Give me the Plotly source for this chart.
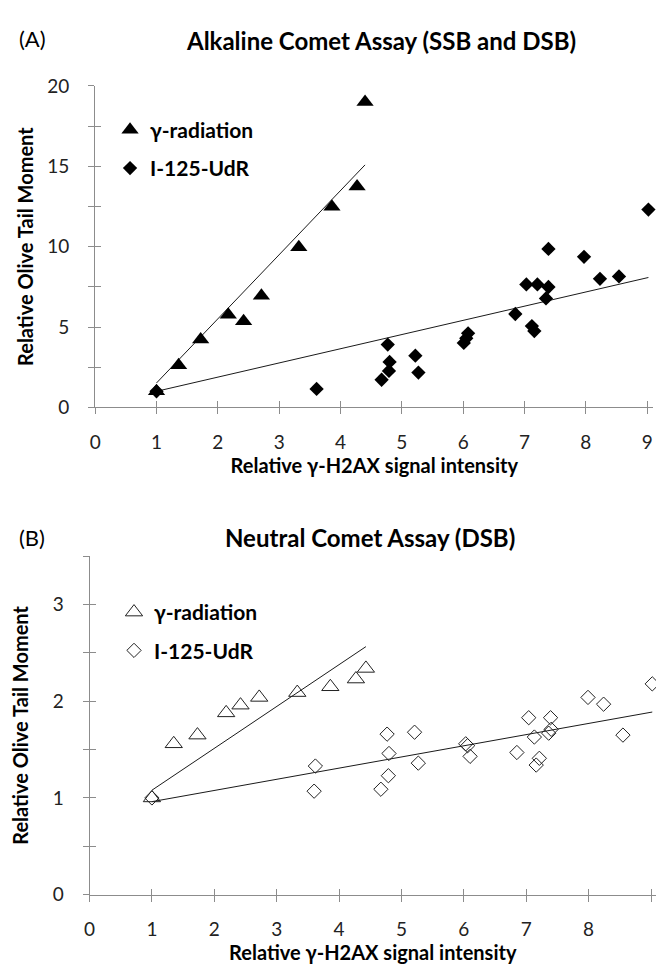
import plotly.graph_objects as go

# ---------------- data ----------------
x_ticks = [0, 1, 2, 3, 4, 5, 6, 7, 8, 9]

# Panel A: Alkaline comet assay
gamma_x_A = [1.00, 1.36, 1.72, 2.17, 2.42, 2.71, 3.32, 3.86, 4.27, 4.40]
gamma_y_A = [1.00, 2.63, 4.23, 5.77, 5.36, 6.94, 9.96, 12.49, 13.74, 19.0]
iodine_x_A = [1.00, 3.61, 4.67, 4.79, 4.80, 4.77, 5.22, 5.27, 6.01, 6.05, 6.08, 6.85,
              7.03, 7.21, 7.39, 7.35, 7.12, 7.16, 7.39, 7.97, 8.23, 8.54, 9.02]
iodine_y_A = [1.00, 1.15, 1.72, 2.27, 2.83, 3.91, 3.22, 2.17, 4.01, 4.30, 4.61, 5.81,
              7.65, 7.65, 7.49, 6.78, 5.06, 4.75, 9.86, 9.37, 8.00, 8.15, 12.31]
fit_gamma_A = (3.99, -2.47)    # slope, intercept
fit_iodine_A = (0.883, 0.117)
y_ticks_A = [0, 2.5, 5, 7.5, 10, 12.5, 15, 17.5, 20]
y_labels_A = ["0", "", "5", "", "10", "", "15", "", "20"]

# Panel B: Neutral comet assay
gamma_x_B = [1.00, 1.35, 1.73, 2.19, 2.42, 2.72, 3.33, 3.86, 4.27, 4.43]
gamma_y_B = [1.00, 1.56, 1.65, 1.88, 1.96, 2.04, 2.09, 2.15, 2.23, 2.34]
iodine_x_B = [1.00, 3.60, 3.62, 4.67, 4.79, 4.80, 4.77, 5.21, 5.27, 6.03, 6.06, 6.10,
              6.85, 7.04, 7.13, 7.21, 7.16, 7.39, 7.36, 7.40, 7.99, 8.24, 8.55, 9.02]
iodine_y_B = [1.00, 1.07, 1.33, 1.09, 1.23, 1.46, 1.66, 1.68, 1.36, 1.56, 1.54, 1.43,
              1.47, 1.83, 1.63, 1.41, 1.34, 1.83, 1.67, 1.71, 2.04, 1.97, 1.65, 2.18]
fit_gamma_B = (0.433, 0.647)
fit_iodine_B = (0.1156, 0.846)
y_ticks_B = [0, 0.5, 1, 1.5, 2, 2.5, 3, 3.5]
y_labels_B = ["0", "", "1", "", "2", "", "3", ""]

# ---------------- styling ----------------
FONT = "Lato"
AX = "#8c8c8c"
W, H = 656, 971

def px2x(p):
    return p / W

def px2y(p):
    return 1 - p / H

x_range_A = [0, 9.1]
x_range_B = [0, 9.08]
domA_x = [px2x(90), px2x(653.3)]
domA_y = [px2y(405), px2y(75.7)]
domB_x = [px2x(84.3), px2x(656)]
domB_y = [px2y(904), px2y(557.5)]

fig = go.Figure()

def fit_line(xs, coef):
    lo, hi = min(xs), max(xs)
    return [lo, hi], [coef[0] * lo + coef[1], coef[0] * hi + coef[1]]

LINE = dict(color="#1a1a1a", width=1)

# Panel A traces
for xs, coef in ((gamma_x_A, fit_gamma_A), (iodine_x_A, fit_iodine_A)):
    lx, ly = fit_line(xs, coef)
    fig.add_trace(go.Scatter(x=lx, y=ly, mode="lines", line=LINE, showlegend=False,
                             xaxis="x", yaxis="y", hoverinfo="skip"))
fig.add_trace(go.Scatter(x=gamma_x_A, y=gamma_y_A, mode="markers", name="γ-radiation",
                         marker=dict(symbol="triangle-up", size=15, color="black"),
                         legend="legend", legendgroup="a1", xaxis="x", yaxis="y",
                         cliponaxis=False))
fig.add_trace(go.Scatter(x=iodine_x_A, y=iodine_y_A, mode="markers", name="I-125-UdR",
                         marker=dict(symbol="diamond", size=11, color="black"),
                         legend="legend", legendgroup="a2", xaxis="x", yaxis="y",
                         cliponaxis=False))

# Panel B traces
for xs, coef in ((gamma_x_B, fit_gamma_B), (iodine_x_B, fit_iodine_B)):
    lx, ly = fit_line(xs, coef)
    fig.add_trace(go.Scatter(x=lx, y=ly, mode="lines", line=LINE, showlegend=False,
                             xaxis="x2", yaxis="y2", hoverinfo="skip"))
fig.add_trace(go.Scatter(x=gamma_x_B, y=gamma_y_B, mode="markers", name="γ-radiation",
                         marker=dict(symbol="triangle-up-open", size=15, color="#222",
                                     line=dict(width=1)),
                         legend="legend2", legendgroup="b1", xaxis="x2", yaxis="y2",
                         cliponaxis=False))
fig.add_trace(go.Scatter(x=iodine_x_B, y=iodine_y_B, mode="markers", name="I-125-UdR",
                         marker=dict(symbol="diamond-open", size=11, color="#222",
                                     line=dict(width=1)),
                         legend="legend2", legendgroup="b2", xaxis="x2", yaxis="y2",
                         cliponaxis=False))

# invisible traces to activate overlay axes (inner half of crossing ticks)
fig.add_trace(go.Scatter(x=[], y=[], xaxis="x3", yaxis="y3", showlegend=False))
fig.add_trace(go.Scatter(x=[], y=[], xaxis="x4", yaxis="y4", showlegend=False))

tickfont = dict(family=FONT, size=19, color="#222")
titlefont = dict(family=FONT, size=20, color="black", weight="bold")

def xaxis_common(dom, anchor, rng):
    return dict(domain=dom, anchor=anchor, range=rng, tickmode="array",
                tickvals=x_ticks, ticktext=[str(v) for v in x_ticks],
                ticks="outside", ticklen=6, tickcolor=AX, tickwidth=1,
                showline=True, linecolor=AX, linewidth=1, showgrid=False,
                zeroline=False, tickfont=tickfont, ticklabelstandoff=12,
                title=dict(text="Relative γ-H2AX signal intensity", font=titlefont,
                           standoff=6))

def yaxis_common(dom, anchor, rng, tv, tt, standoff):
    return dict(domain=dom, anchor=anchor, range=rng, tickmode="array",
                tickvals=tv, ticktext=tt, ticks="outside", ticklen=6, tickcolor=AX,
                tickwidth=1, showline=True, linecolor=AX, linewidth=1, showgrid=False,
                zeroline=False, tickfont=tickfont, ticklabelstandoff=15,
                title=dict(text="Relative Olive Tail Moment", font=titlefont,
                           standoff=standoff))

def overlay_x(over, anchor, rng):
    return dict(overlaying=over, anchor=anchor, range=rng, tickmode="array",
                tickvals=x_ticks, ticks="inside", ticklen=6, tickcolor=AX, tickwidth=1,
                showticklabels=False, showline=False, showgrid=False, zeroline=False)

def overlay_y(over, anchor, rng, tv):
    return dict(overlaying=over, anchor=anchor, range=rng, tickmode="array",
                tickvals=tv, ticks="inside", ticklen=6, tickcolor=AX, tickwidth=1,
                showticklabels=False, showline=False, showgrid=False, zeroline=False)

legend_font = dict(family=FONT, size=21, color="black", weight="bold")

fig.update_layout(
    width=W, height=H,
    margin=dict(l=0, r=0, t=0, b=0),
    paper_bgcolor="white", plot_bgcolor="white",
    xaxis=xaxis_common(domA_x, "y", x_range_A),
    yaxis=yaxis_common(domA_y, "x", [0, 20], y_ticks_A, y_labels_A, 8),
    xaxis2=xaxis_common(domB_x, "y2", x_range_B),
    yaxis2=yaxis_common(domB_y, "x2", [0, 3.5], y_ticks_B, y_labels_B, 18),
    xaxis3=overlay_x("x", "y3", x_range_A),
    yaxis3=overlay_y("y", "x3", [0, 20], y_ticks_A),
    xaxis4=overlay_x("x2", "y4", x_range_B),
    yaxis4=overlay_y("y2", "x4", [0, 3.5], y_ticks_B),
    legend=dict(x=px2x(105), y=px2y(100), xanchor="left", yanchor="top",
                font=legend_font, bgcolor="rgba(0,0,0,0)", tracegroupgap=8,
                itemsizing="trace"),
    legend2=dict(x=px2x(109), y=px2y(594), xanchor="left", yanchor="top",
                 font=legend_font, bgcolor="rgba(0,0,0,0)", tracegroupgap=8,
                 itemsizing="trace"),
    annotations=[
        dict(text="(A)", x=px2x(11), y=px2y(27), xref="paper", yref="paper",
             xanchor="left", yanchor="middle", showarrow=False,
             font=dict(family=FONT, size=22, color="black")),
        dict(text="Alkaline Comet Assay (SSB and DSB)", x=px2x(378), y=px2y(29),
             xref="paper", yref="paper", xanchor="center", yanchor="middle",
             showarrow=False, font=dict(family=FONT, size=24, color="black", weight="bold")),
        dict(text="(B)", x=px2x(11), y=px2y(538), xref="paper", yref="paper",
             xanchor="left", yanchor="middle", showarrow=False,
             font=dict(family=FONT, size=22, color="black")),
        dict(text="Neutral Comet Assay (DSB)", x=px2x(367), y=px2y(538),
             xref="paper", yref="paper", xanchor="center", yanchor="middle",
             showarrow=False, font=dict(family=FONT, size=24, color="black", weight="bold")),
    ],
)

fig.write_html("out.html", config={"displayModeBar": False},
               post_script="document.body.style.margin='0px';")
